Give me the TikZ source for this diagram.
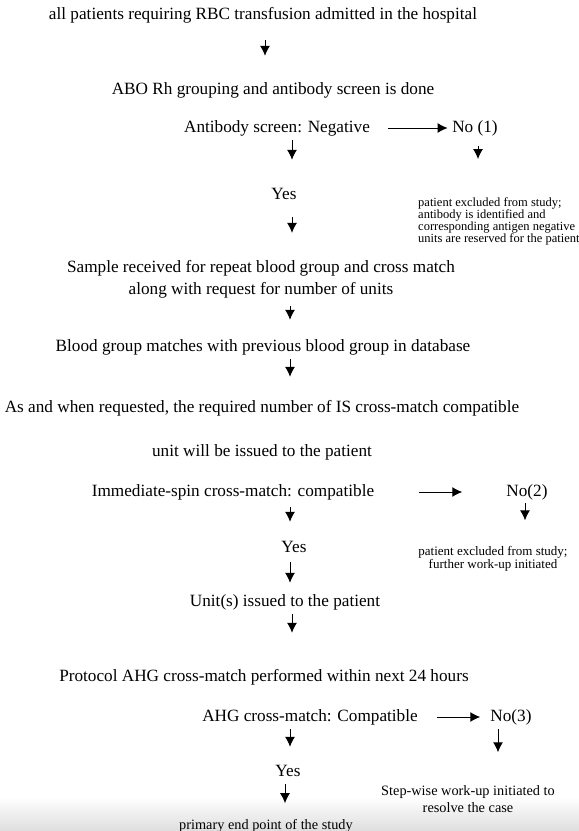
\documentclass[tikz,border=0pt]{standalone}
\usepackage{fontspec}
\setmainfont{Liberation Serif}
\usetikzlibrary{arrows.meta}

\begin{document}
\begin{tikzpicture}[x=1pt, y=-1pt,
  maintxt/.style={inner sep=0pt, text height=12pt, text depth=4pt, font=\fontsize{17.2}{22}\selectfont},
  twoline/.style={inner sep=0pt, align=center, font=\fontsize{17.2}{22}\selectfont},
  notetxt/.style={inner sep=0pt, align=left, font=\fontsize{12.5}{12}\selectfont},
  smalltxt/.style={inner sep=0pt, align=center, font=\fontsize{14.3}{17}\selectfont},
  arr/.style={->, >={Latex[length=10pt,width=10pt]}, line width=1pt}]

  % page
  \useasboundingbox (0,0) rectangle (579,831);
  \shade[top color=white, bottom color=black!13] (0,797) rectangle (579,831);

  % columns of the arrows
  \coordinate (c0) at (265,0);
  \coordinate (c1) at (292,0);
  \coordinate (c2) at (478,0);
  \coordinate (c3) at (290,0);
  \coordinate (c5) at (525,0);
  \coordinate (c6) at (498,0);
  \coordinate (c7) at (285,0);

  % main column
  \node[maintxt] (top) at (263,15) {all patients requiring RBC transfusion admitted in the hospital};
  \node[maintxt] (abo) at (273,90) {ABO Rh grouping and antibody screen is done};
  \node[maintxt] (ab) at (277,128) {Antibody screen: Negative};
  \node[maintxt] (yes1) at (284,195) {Yes};
  \node[twoline] (smp) at (261,279) {Sample received for repeat blood group and cross match\\along with request for number of units};
  \node[maintxt] (bg) at (263,347) {Blood group matches with previous blood group in database};
  \node[maintxt] (req) at (262,408) {As and when requested, the required number of IS cross-match compatible};
  \node[maintxt] (unit) at (262,452) {unit will be issued to the patient};
  \node[maintxt] (is) at (233,492) {Immediate-spin cross-match: compatible};
  \node[maintxt] (yes2) at (294,548) {Yes};
  \node[maintxt] (iss) at (285,602) {Unit(s) issued to the patient};
  \node[maintxt] (prot) at (264,677) {Protocol AHG cross-match performed within next 24 hours};
  \node[maintxt] (ahg) at (310,717) {AHG cross-match: Compatible};
  \node[maintxt] (yes3) at (288,772) {Yes};
  \node[smalltxt] (end) at (266,826) {primary end point of the study};

  % side branches
  \node[maintxt] (no1) at (475,128) {No (1)};
  \node[notetxt, anchor=west] (ex1) at (418,221) {patient excluded from study;\\antibody is identified and\\corresponding antigen negative\\units are reserved for the patient};
  \node[maintxt] (no2) at (527,492) {No(2)};
  \node[notetxt, align=center, font=\fontsize{13}{13}\selectfont] (ex2) at (493,559) {patient excluded from study;\\further work-up initiated};
  \node[maintxt] (no3) at (511,717) {No(3)};
  \node[smalltxt] (sw) at (468,799) {Step-wise work-up initiated to\\resolve the case};

  % arrows down the middle
  \draw[arr, shorten <=17pt, shorten >=26pt] (top.south -| c0) -- (abo.north -| c0);
  \draw[arr, shorten <=4pt, shorten >=27pt] (ab.south -| c1) -- (yes1.north -| c1);
  \draw[arr, shorten <=14pt, shorten >=27pt] (yes1.south -| c1) -- (smp.north -| c1);
  \draw[arr, shorten <=8pt, shorten >=19pt] (smp.south -| c3) -- (bg.north -| c3);
  \draw[arr, shorten <=4pt, shorten >=23pt] (bg.south -| c3) -- (req.north -| c3);
  \draw[arr, shorten <=7pt, shorten >=18pt] (is.south -| c3) -- (yes2.north -| c3);
  \draw[arr, shorten <=6pt, shorten >=11pt] (yes2.south -| c3) -- (iss.north -| c3);
  \draw[arr, shorten <=4pt, shorten >=36pt] (iss.south -| c1) -- (prot.north -| c1);
  \draw[arr, shorten <=4pt, shorten >=17pt] (ahg.south -| c3) -- (yes3.north -| c3);
  \draw[arr, shorten <=4pt, shorten >=16pt] (yes3.south -| c7) -- (end.north -| c7);

  % arrows to the right
  \draw[arr, shorten <=17.5pt, shorten >=4.5pt] (ab.east) -- (no1.west);
  \draw[arr, shorten <=10pt, shorten >=38pt] (no1.south -| c2) -- (ex1.north -| c2);
  \draw[arr, shorten <=44.5pt, shorten >=44pt] (is.east) -- (no2.west);
  \draw[arr, shorten <=3pt, shorten >=26pt] (no2.south -| c5) -- (ex2.north -| c5);
  \draw[arr, shorten <=19.5pt, shorten >=10pt] (ahg.east) -- (no3.west);
  \draw[arr, shorten <=4pt, shorten >=33pt] (no3.south -| c6) -- (sw.north -| c6);
\end{tikzpicture}
\end{document}
